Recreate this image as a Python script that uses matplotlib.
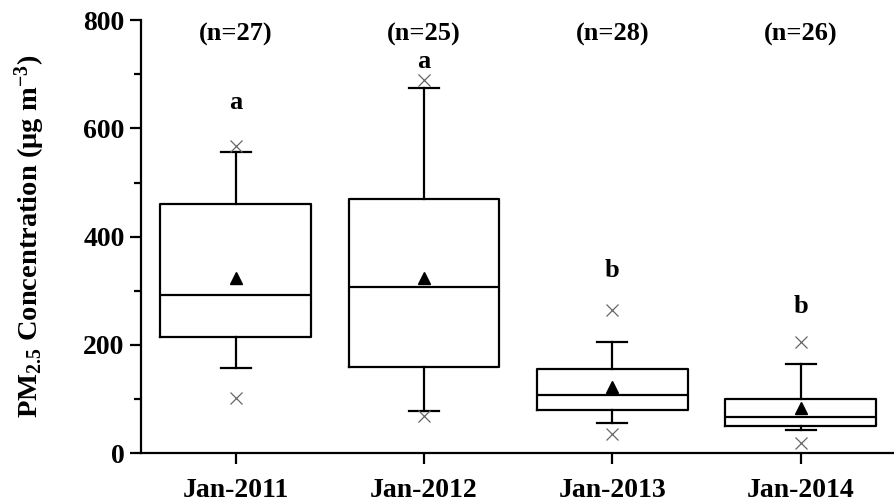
import matplotlib
matplotlib.use("Agg")
import matplotlib.pyplot as plt
from matplotlib.ticker import MultipleLocator

plt.rcParams['font.family'] = 'Liberation Serif'
plt.rcParams['font.weight'] = 'bold'
plt.rcParams['mathtext.fontset'] = 'custom'
plt.rcParams['mathtext.rm'] = 'Liberation Serif:bold'
plt.rcParams['mathtext.it'] = 'Liberation Serif:bold'
plt.rcParams['mathtext.bf'] = 'Liberation Serif:bold'

# box statistics per January campaign (ug/m3)
periods = ["Jan-2011", "Jan-2012", "Jan-2013", "Jan-2014"]
n_samples = [27, 25, 28, 26]
whisker_low = [157, 78, 55, 42]
q1 = [215, 160, 80, 50]
median = [293, 306, 107, 66]
q3 = [460, 469, 155, 100]
whisker_high = [557, 674, 206, 164]
mean = [323, 324, 123, 83]
val_min = [101, 68, 35, 18]
val_max = [567, 689, 264, 206]
groups = ["a", "a", "b", "b"]
group_y = [647, 723, 338, 270]

stats = []
for i, lab in enumerate(periods):
    stats.append(dict(label=lab, whislo=whisker_low[i], q1=q1[i], med=median[i],
                      q3=q3[i], whishi=whisker_high[i], mean=mean[i], fliers=[]))

fig = plt.figure(figsize=(8.95, 5.04), dpi=100)
ax = fig.add_axes([0.158, 0.101, 0.842, 0.859])

pos = list(range(1, len(periods) + 1))
lw = 1.6
ax.bxp(stats, positions=pos, widths=0.8, showmeans=True, showfliers=False,
       boxprops=dict(color='black', linewidth=lw),
       medianprops=dict(color='black', linewidth=lw),
       whiskerprops=dict(color='black', linewidth=lw),
       capprops=dict(color='black', linewidth=lw),
       capwidths=0.16,
       meanprops=dict(marker='^', markerfacecolor='black', markeredgecolor='black', markersize=9))

# min / max markers
ax.plot(pos, val_min, linestyle='none', marker='x', color='#666666', markersize=9, markeredgewidth=0.9)
ax.plot(pos, val_max, linestyle='none', marker='x', color='#666666', markersize=9, markeredgewidth=0.9)

for i, p in enumerate(pos):
    ax.text(p, 774, "(n=%d)" % n_samples[i], ha='center', va='center', fontsize=19, fontweight='bold')
    ax.text(p, group_y[i], groups[i], ha='center', va='center', fontsize=19, fontweight='bold')

ax.set_xlim(0.5, 4.5)
ax.set_ylim(0, 800)
ax.yaxis.set_major_locator(MultipleLocator(200))
ax.yaxis.set_minor_locator(MultipleLocator(100))
ax.set_xticks(pos)
ax.set_xticklabels(periods)

for s in ['top', 'right']:
    ax.spines[s].set_visible(False)
for s in ['left', 'bottom']:
    ax.spines[s].set_linewidth(1.6)

ax.tick_params(axis='both', which='major', direction='out', length=8, width=1.6, labelsize=20)
ax.tick_params(axis='y', which='minor', direction='out', length=5, width=1.6)
ax.tick_params(axis='x', pad=10)
ax.tick_params(axis='y', pad=4)

ax.set_ylabel(r'$\mathrm{PM_{2.5}}$ Concentration ($\mu$g m$^{-3}$)', fontsize=20.5, fontweight='bold', labelpad=26)

fig.savefig("out.png", dpi=100)
